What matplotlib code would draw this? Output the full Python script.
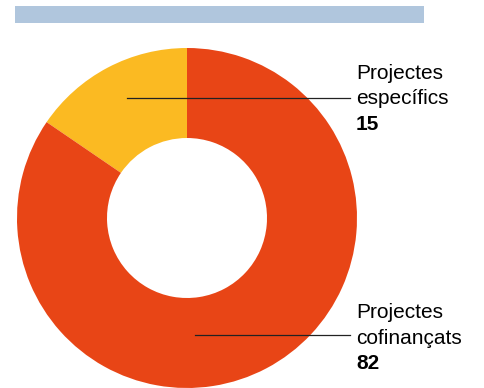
import matplotlib.pyplot as plt

# dades
categories = ["Projectes específics", "Projectes cofinançats"]
values = [15, 82]
colors = ["#FBBA22", "#E84516"]

W, H = 484, 388
fig = plt.figure(figsize=(W / 100, H / 100), dpi=100)
ax = fig.add_axes([0, 0, 1, 1])

# barra superior
ax.add_patch(plt.Rectangle((15, H - 23), 409, 17, color="#B0C6DD", lw=0))

# donut
cx, cy, r = 187, H - 218, 170
ax.pie(values, colors=colors, startangle=90, counterclock=True,
       center=(cx, cy), radius=r, wedgeprops=dict(width=90, linewidth=0),
       frame=True)
ax.set_xlim(0, W)
ax.set_ylim(0, H)
ax.set_aspect("equal")
ax.axis("off")

# etiquetes amb línia
font = "Liberation Sans"
labels = [("Projectes", "específics", str(values[0]), 98, 79),
          ("Projectes", "cofinançats", str(values[1]), 335, 318)]
starts = [127, 195]
for (l1, l2, num, ly, base), x0 in zip(labels, starts):
    ax.plot([x0, 350], [H - ly, H - ly], color="#222222", lw=0.9)
    ax.text(356, H - base, l1, fontsize=15, family=font, va="baseline")
    ax.text(356, H - base - 25.5, l2, fontsize=15, family=font, va="baseline")
    ax.text(356, H - base - 51, num, fontsize=15, family=font, va="baseline",
            fontweight="bold")

fig.savefig("out.png", dpi=100)
